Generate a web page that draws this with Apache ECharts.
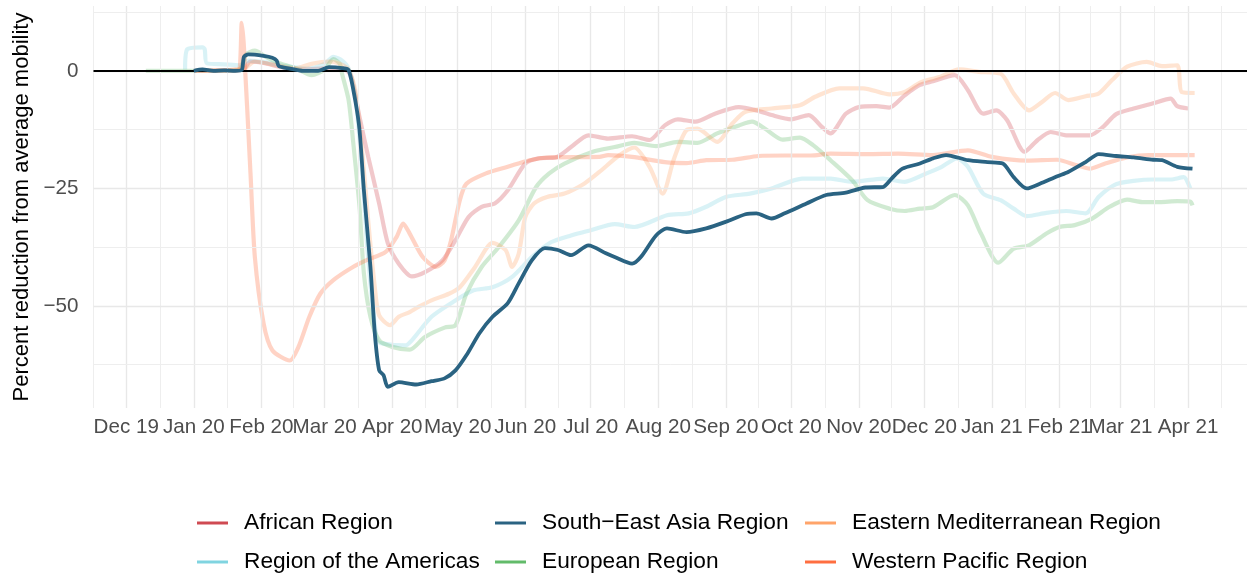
<!DOCTYPE html>
<html>
<head>
<meta charset="utf-8">
<script src="https://cdn.jsdelivr.net/npm/echarts@6/dist/echarts.min.js"></script>
<style>
  html, body { margin: 0; padding: 0; background: #fff; }
  #chart { width: 1252px; height: 575px; }
</style>
</head>
<body>
<div id="chart"></div>
<script>
// Axis breaks and tick labels
const monthBreaks = ['2019-12-01','2020-01-01','2020-02-01','2020-03-01','2020-04-01','2020-05-01',
  '2020-06-01','2020-07-01','2020-08-01','2020-09-01','2020-10-01','2020-11-01','2020-12-01',
  '2021-01-01','2021-02-01','2021-03-01','2021-04-01'];
const monthLabels = ['Dec 19','Jan 20','Feb 20','Mar 20','Apr 20','May 20','Jun 20','Jul 20',
  'Aug 20','Sep 20','Oct 20','Nov 20','Dec 20','Jan 21','Feb 21','Mar 21','Apr 21'];
const yBreaks = [-50, -25, 0];
const yLabels = ['\u221250', '\u221225', '0'];
const yMinorBreaks = [-62.5, -37.5, -12.5, 12.5];

// Mobility series: [date, percent change from average]
const african = [
  ['2020-01-02',0],['2020-01-20',0.2],['2020-01-24',0.4],['2020-01-27',2.0],['2020-02-03',1.6],
  ['2020-02-10',0.8],['2020-02-20',0.3],['2020-03-03',0.6],['2020-03-10',0.4],['2020-03-13',-1],
  ['2020-03-17',-9.8],['2020-03-21',-18.3],['2020-03-26',-28.2],['2020-03-30',-36.7],['2020-04-04',-41],
  ['2020-04-10',-43.7],['2020-04-16',-42.8],['2020-04-24',-40.3],['2020-04-30',-36],['2020-05-06',-31.1],
  ['2020-05-12',-28.9],['2020-05-18',-28.2],['2020-05-24',-25.4],['2020-06-01',-19.7],['2020-06-07',-18.6],
  ['2020-06-15',-18.4],['2020-06-22',-16.2],['2020-06-30',-13.7],['2020-07-09',-14.4],['2020-07-20',-13.9],
  ['2020-07-28',-14.7],['2020-08-04',-11.6],['2020-08-10',-10.3],['2020-08-18',-10.8],['2020-08-27',-9.1],
  ['2020-09-07',-7.7],['2020-09-15',-8.4],['2020-09-22',-9.4],['2020-10-01',-10.3],['2020-10-09',-9.4],
  ['2020-10-15',-11.9],['2020-10-19',-13.3],['2020-10-26',-9.1],['2020-11-01',-7.7],['2020-11-09',-7.5],
  ['2020-11-15',-7.8],['2020-11-22',-5.2],['2020-11-29',-3.0],['2020-12-05',-2.2],['2020-12-15',-0.9],
  ['2020-12-21',-4.1],['2020-12-28',-9.1],['2021-01-03',-8.4],['2021-01-08',-10.5],['2021-01-16',-17.2],
  ['2021-01-22',-14.7],['2021-01-28',-13],['2021-02-04',-13.7],['2021-02-15',-13.7],['2021-02-21',-11.9],
  ['2021-02-27',-9.2],['2021-03-07',-8],['2021-03-16',-6.9],['2021-03-24',-5.9],['2021-03-27',-7.5],
  ['2021-04-01',-8]
];
const americas = [
  ['2019-12-28',0.3],['2019-12-29',4.6],['2020-01-05',5.0],['2020-01-06',4.6],['2020-01-07',1.6],
  ['2020-01-15',1.4],['2020-01-22',1.2],['2020-01-26',2.2],['2020-02-03',1.8],['2020-02-12',1.0],
  ['2020-02-22',0.5],['2020-03-01',1.5],['2020-03-05',3.0],['2020-03-09',2.2],['2020-03-12',0.5],
  ['2020-03-15',-5],['2020-03-18',-20],['2020-03-21',-40],['2020-03-25',-57.3],['2020-03-28',-58],
  ['2020-04-07',-58.4],['2020-04-10',-57.3],['2020-04-19',-52.3],['2020-04-28',-49.4],['2020-05-08',-46.7],
  ['2020-05-17',-46],['2020-05-26',-43.8],['2020-06-04',-39.6],['2020-06-13',-36.4],['2020-06-22',-35],
  ['2020-07-01',-33.9],['2020-07-12',-32.6],['2020-07-21',-33.2],['2020-08-05',-30.7],['2020-08-15',-30.3],
  ['2020-08-23',-28.9],['2020-09-01',-26.8],['2020-09-12',-26.1],['2020-09-22',-25],['2020-10-06',-22.9],
  ['2020-10-19',-22.9],['2020-10-29',-23.6],['2020-11-12',-22.9],['2020-11-22',-23.6],['2020-12-02',-21.8],
  ['2020-12-09',-20.4],['2020-12-16',-18.6],['2020-12-21',-20.4],['2020-12-28',-26.1],['2021-01-05',-27.5],
  ['2021-01-11',-29.3],['2021-01-17',-30.9],['2021-01-26',-30.2],['2021-02-04',-29.8],['2021-02-13',-30.3],
  ['2021-02-19',-26.8],['2021-02-27',-24.1],['2021-03-07',-23.4],['2021-03-16',-23.1],['2021-03-24',-23.1],
  ['2021-03-30',-22.6],['2021-04-02',-25]
];
const southEastAsia = [
  ['2020-01-01',0],['2020-01-05',0.3],['2020-01-10',0],['2020-01-15',0.1],['2020-01-20',0],
  ['2020-01-23',0.2],['2020-01-24',3.0],['2020-01-26',3.5],['2020-02-02',3.2],['2020-02-06',2.8],
  ['2020-02-08',2.2],['2020-02-09',1.0],['2020-02-14',0.5],['2020-02-20',0],['2020-02-27',0],
  ['2020-03-03',0.8],['2020-03-09',0.6],['2020-03-12',0.2],['2020-03-15',-6.2],['2020-03-17',-12.6],
  ['2020-03-19',-25.4],['2020-03-22',-41.7],['2020-03-24',-55.8],['2020-03-26',-63.7],['2020-03-28',-64.7],
  ['2020-03-30',-67.2],['2020-04-04',-66.2],['2020-04-12',-66.7],['2020-04-19',-66],['2020-04-25',-65.4],
  ['2020-04-30',-63.7],['2020-05-05',-60.5],['2020-05-11',-55.8],['2020-05-17',-52.3],['2020-05-24',-49.4],
  ['2020-05-29',-45.2],['2020-06-04',-40.3],['2020-06-10',-37.7],['2020-06-16',-38.1],['2020-06-22',-39.2],
  ['2020-06-30',-37.1],['2020-07-08',-38.8],['2020-07-12',-39.6],['2020-07-20',-41],['2020-07-24',-39.6],
  ['2020-07-31',-35],['2020-08-05',-33.5],['2020-08-14',-34.3],['2020-08-23',-33.5],['2020-09-01',-32.1],
  ['2020-09-10',-30.5],['2020-09-15',-30.3],['2020-09-22',-31.4],['2020-09-28',-30.3],['2020-10-08',-28.2],
  ['2020-10-17',-26.4],['2020-10-26',-25.9],['2020-11-04',-24.8],['2020-11-12',-24.7],['2020-11-16',-22.9],
  ['2020-11-21',-20.8],['2020-11-29',-19.7],['2020-12-05',-18.6],['2020-12-11',-17.9],['2020-12-21',-19],
  ['2020-12-30',-19.4],['2021-01-06',-19.7],['2021-01-11',-22.6],['2021-01-17',-25],['2021-01-23',-24],
  ['2021-01-31',-22.4],['2021-02-05',-21.5],['2021-02-13',-19.4],['2021-02-19',-17.7],['2021-02-27',-18.1],
  ['2021-03-07',-18.4],['2021-03-16',-18.9],['2021-03-20',-19],['2021-03-27',-20.4],['2021-04-03',-20.8]
];
const european = [
  ['2019-12-10',0],['2020-01-15',0],['2020-01-22',0.3],['2020-01-25',3.5],['2020-01-29',4.3],
  ['2020-02-03',3.0],['2020-02-10',1.5],['2020-02-17',0.5],['2020-02-24',-0.9],['2020-03-01',0.3],
  ['2020-03-05',2.5],['2020-03-08',1.5],['2020-03-09',-0.6],['2020-03-12',-6.2],['2020-03-14',-14.7],
  ['2020-03-17',-28.9],['2020-03-19',-43.1],['2020-03-22',-52.3],['2020-03-26',-57.3],['2020-04-01',-58.7],
  ['2020-04-09',-59.3],['2020-04-16',-56.6],['2020-04-25',-54.6],['2020-04-30',-54.1],['2020-05-05',-47.4],
  ['2020-05-12',-41.7],['2020-05-20',-37.4],['2020-05-29',-31.8],['2020-06-06',-24.7],['2020-06-12',-21.8],
  ['2020-06-19',-19.7],['2020-07-02',-17.2],['2020-07-12',-16.2],['2020-07-21',-15.3],['2020-07-31',-16],
  ['2020-08-10',-15.1],['2020-08-19',-15.3],['2020-08-28',-13.3],['2020-09-07',-11.6],['2020-09-13',-10.8],
  ['2020-09-19',-12.3],['2020-09-27',-14.6],['2020-10-05',-14.2],['2020-10-11',-15.8],['2020-10-19',-19],
  ['2020-10-29',-23.3],['2020-11-05',-27.5],['2020-11-15',-29.3],['2020-11-22',-29.8],['2020-11-29',-29.3],
  ['2020-12-05',-29],['2020-12-15',-26.4],['2020-12-21',-28.6],['2020-12-27',-34.6],['2021-01-04',-40.8],
  ['2021-01-11',-37.8],['2021-01-18',-37.1],['2021-01-26',-34.6],['2021-02-01',-33.2],['2021-02-08',-32.8],
  ['2021-02-16',-31.4],['2021-02-24',-28.9],['2021-03-04',-27.4],['2021-03-11',-27.9],['2021-03-19',-27.9],
  ['2021-03-27',-27.7],['2021-04-02',-27.8],['2021-04-03',-28.6]
];
const easternMediterranean = [
  ['2020-01-01',0],['2020-01-24',0.5],['2020-01-29',2],['2020-02-08',1.2],['2020-02-16',0.5],
  ['2020-02-24',1.5],['2020-03-03',2],['2020-03-08',1.5],['2020-03-12',0.3],['2020-03-15',-4],
  ['2020-03-18',-16],['2020-03-21',-32],['2020-03-24',-46],['2020-03-26',-52],['2020-03-31',-54.1],
  ['2020-04-04',-52.3],['2020-04-09',-51.3],['2020-04-13',-50.2],['2020-04-19',-48.8],['2020-04-27',-47.4],
  ['2020-05-02',-46],['2020-05-09',-41.7],['2020-05-17',-36.6],['2020-05-23',-38.1],['2020-05-26',-41.7],
  ['2020-05-29',-38.9],['2020-06-01',-31.1],['2020-06-05',-28.2],['2020-06-11',-26.8],['2020-06-19',-26.1],
  ['2020-06-28',-24],['2020-07-05',-21.5],['2020-07-14',-18],['2020-07-21',-16.3],['2020-07-28',-20.4],
  ['2020-08-03',-26.1],['2020-08-08',-19],['2020-08-14',-12.6],['2020-08-19',-12.3],['2020-08-28',-15.1],
  ['2020-09-04',-11.2],['2020-09-10',-8.7],['2020-09-22',-8],['2020-10-05',-7.3],['2020-10-12',-5.5],
  ['2020-10-23',-3.7],['2020-11-03',-3.7],['2020-11-15',-5],['2020-11-22',-4.5],['2020-11-29',-2.5],
  ['2020-12-08',-1.3],['2020-12-17',0.3],['2020-12-26',-0.2],['2021-01-05',-0.6],['2021-01-11',-4.8],
  ['2021-01-18',-8.4],['2021-01-24',-6.6],['2021-01-30',-4.7],['2021-02-05',-6.2],['2021-02-13',-5.4],
  ['2021-02-19',-4.8],['2021-02-25',-2],['2021-03-04',0.9],['2021-03-13',1.9],['2021-03-20',1],
  ['2021-03-27',1.2],['2021-03-29',-4.5],['2021-04-04',-4.7]
];
const westernPacific = [
  ['2020-01-01',0],['2020-01-20',0],['2020-01-22',0.3],['2020-01-23',10.2],['2020-01-24',5],
  ['2020-01-27',-21.8],['2020-01-29',-39.6],['2020-02-02',-53.7],['2020-02-06',-59.4],['2020-02-14',-61.6],
  ['2020-02-18',-58.7],['2020-02-23',-52.3],['2020-02-28',-47.4],['2020-03-05',-44.5],['2020-03-14',-41.7],
  ['2020-03-21',-40.1],['2020-03-29',-38.5],['2020-04-03',-35.3],['2020-04-06',-32.5],['2020-04-09',-34.6],
  ['2020-04-15',-39.6],['2020-04-21',-41.7],['2020-04-25',-40.3],['2020-04-28',-36],['2020-05-02',-27.5],
  ['2020-05-05',-24],['2020-05-14',-21.8],['2020-05-24',-20.4],['2020-06-03',-19],['2020-06-12',-18.4],
  ['2020-07-05',-18.3],['2020-07-09',-17.9],['2020-07-20',-18.3],['2020-08-04',-19.4],['2020-08-14',-19.6],
  ['2020-08-23',-19],['2020-09-04',-18.9],['2020-09-16',-18.1],['2020-09-28',-18],['2020-10-10',-18],
  ['2020-10-19',-17.6],['2020-11-05',-17.7],['2020-11-19',-17.6],['2020-12-05',-17.9],['2020-12-21',-16.9],
  ['2021-01-01',-18.3],['2021-01-17',-19.1],['2021-01-31',-18.9],['2021-02-09',-20.1],['2021-02-15',-20.8],
  ['2021-02-22',-19.7],['2021-03-04',-18.4],['2021-03-14',-17.9],['2021-04-04',-17.9]
];

const toTime = s => { const p = s.split('-').map(Number); return new Date(p[0], p[1] - 1, p[2]).getTime(); };
const FONT = '"Liberation Sans", Arial, Helvetica, sans-serif';

// Minor vertical grid lines sit halfway between consecutive month breaks
const breakTimes = monthBreaks.map(toTime);
const extended = [toTime('2019-11-01')].concat(breakTimes, [toTime('2021-05-01')]);
const xMinor = [];
for (let i = 0; i < extended.length - 1; i++) xMinor.push((extended[i] + extended[i + 1]) / 2);

const majorLine = { color: '#e8e8e8', width: 1.4, type: 'solid' };
const minorLine = { color: '#eeeeee', width: 1.0, type: 'solid' };
const gridMarks = []
  .concat(xMinor.map(v => ({ xAxis: v, lineStyle: minorLine })))
  .concat(breakTimes.map(v => ({ xAxis: v, lineStyle: majorLine })))
  .concat(yMinorBreaks.map(v => ({ yAxis: v, lineStyle: minorLine })))
  .concat(yBreaks.map(v => ({ yAxis: v, lineStyle: majorLine })));

const regions = [
  { name: 'African Region', data: african, color: '#cf4a52' },
  { name: 'Region of the Americas', data: americas, color: '#80d4e0' },
  { name: 'South\u2212East Asia Region', data: southEastAsia, color: '#2a6382', highlight: true },
  { name: 'European Region', data: european, color: '#62bb6a' },
  { name: 'Eastern Mediterranean Region', data: easternMediterranean, color: '#ffa46a' },
  { name: 'Western Pacific Region', data: westernPacific, color: '#ff6e40' }
];

function fade(hex, a) {
  const n = parseInt(hex.slice(1), 16);
  return 'rgba(' + (n >> 16 & 255) + ',' + (n >> 8 & 255) + ',' + (n & 255) + ',' + a + ')';
}

const series = [
  {
    type: 'line', data: [], z: 0, silent: true, animation: false,
    markLine: { silent: true, symbol: 'none', label: { show: false }, animation: false,
      emphasis: { disabled: true }, data: gridMarks }
  }
];
regions.forEach(r => {
  series.push({
    name: r.name, type: 'line', data: r.data.map(d => [toTime(d[0]), d[1]]),
    showSymbol: false, symbol: 'none', smooth: 0.25, silent: true, animation: false,
    z: r.highlight ? 5 : 2,
    itemStyle: { color: r.color },
    lineStyle: { width: r.highlight ? 3.8 : 4.2, color: r.highlight ? r.color : fade(r.color, 0.3) },
    emphasis: { disabled: true }
  });
});
// Reference line at zero
series.push({
  type: 'line', data: [], z: 4, silent: true, animation: false,
  markLine: { silent: true, symbol: 'none', label: { show: false }, animation: false,
    emphasis: { disabled: true },
    data: [{ yAxis: 0, lineStyle: { color: '#000', width: 2, type: 'solid' } }] }
});

const legendCommon = {
  orient: 'vertical', icon: 'rect', itemWidth: 31, itemHeight: 3, itemGap: 13, padding: 0,
  selectedMode: false, itemStyle: { borderWidth: 0 },
  textStyle: { fontFamily: FONT, fontSize: 22.7, color: '#000', lineHeight: 26, padding: [0, 0, 0, 11] }
};

const chart = echarts.init(document.getElementById('chart'), null, { renderer: 'canvas' });
chart.setOption({
  animation: false,
  backgroundColor: '#fff',
  grid: { left: 93.5, right: 5, top: 6, bottom: 167, containLabel: false, outerBoundsMode: 'none' },
  xAxis: {
    type: 'value',
    min: toTime('2019-11-16'), max: toTime('2021-04-28'),
    axisLine: { show: false }, axisTick: { show: false }, splitLine: { show: false },
    axisLabel: {
      customValues: breakTimes, hideOverlap: false, margin: 9,
      fontFamily: FONT, fontSize: 20.6, color: '#4d4d4d',
      formatter: v => { const i = breakTimes.indexOf(v); return i >= 0 ? monthLabels[i] : ''; }
    }
  },
  yAxis: {
    type: 'value', min: -71.7, max: 13.8,
    name: 'Percent reduction from average mobility',
    nameLocation: 'middle', nameGap: 60, nameRotate: 90,
    nameTextStyle: { fontFamily: FONT, fontSize: 22, color: '#000' },
    axisLine: { show: false }, axisTick: { show: false }, splitLine: { show: false },
    axisLabel: {
      customValues: yBreaks, margin: 15,
      fontFamily: FONT, fontSize: 20.6, color: '#4d4d4d',
      formatter: v => { const i = yBreaks.indexOf(v); return i >= 0 ? yLabels[i] : ''; }
    }
  },
  legend: [
    Object.assign({ left: 197, top: 510, data: [regions[0].name, regions[1].name] }, legendCommon),
    Object.assign({ left: 495, top: 510, data: [regions[2].name, regions[3].name] }, legendCommon),
    Object.assign({ left: 805, top: 510, data: [regions[4].name, regions[5].name] }, legendCommon)
  ],
  series: series
});
</script>
</body>
</html>
